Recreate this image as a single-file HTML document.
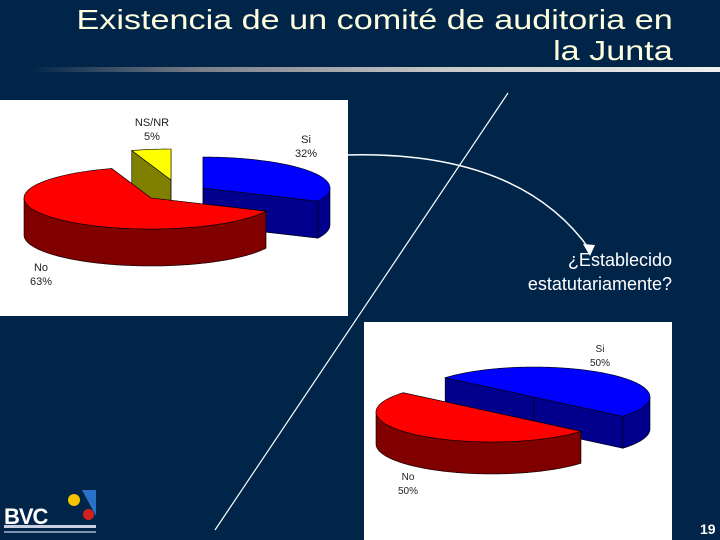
<!DOCTYPE html>
<html><head><meta charset="utf-8"><style>
html,body{margin:0;padding:0;}
body{width:720px;height:540px;background:#012549;position:relative;overflow:hidden;font-family:"Liberation Sans",sans-serif;}
.t{position:absolute;color:#fff;}
</style></head><body>
<div class="t" style="right:47px;top:4px;font-size:28px;line-height:31px;text-align:right;color:#ffffe0;transform:scaleX(1.22);transform-origin:right top;">Existencia de un comité de auditoria en<br>la Junta</div>
<div style="position:absolute;left:30px;top:67px;width:690px;height:5px;background:linear-gradient(to right,#012549,#7a7f88 25%,#c8c8c8 60%,#f0f0f0);"></div>
<div style="position:absolute;left:0;top:100px;width:348px;height:216px;background:#fff;"></div>
<div style="position:absolute;left:364px;top:322px;width:308px;height:218px;background:#fff;"></div>
<svg width="720" height="540" style="position:absolute;left:0;top:0">
<g id="pie1"></g>
<g id="pie2"></g>
<line x1="508" y1="93" x2="215" y2="530" stroke="#fff" stroke-width="1.2"/>
<path d="M345,155 Q520,150 590,250" fill="none" stroke="#fff" stroke-width="1.5"/>
<polygon points="590,256 583,244 595,245" fill="#fff"/>
</svg>
<div class="t" style="left:122px;top:116px;width:60px;text-align:center;font-size:11px;line-height:14px;color:#222;">NS/NR<br>5%</div>
<div class="t" style="left:276px;top:133px;width:60px;text-align:center;font-size:11px;line-height:14px;color:#222;">Si<br>32%</div>
<div class="t" style="left:11px;top:261px;width:60px;text-align:center;font-size:11px;line-height:14px;color:#222;">No<br>63%</div>
<div class="t" style="left:570px;top:343px;width:60px;text-align:center;font-size:10px;line-height:14px;color:#222;">Si<br>50%</div>
<div class="t" style="left:378px;top:471px;width:60px;text-align:center;font-size:10px;line-height:14px;color:#222;">No<br>50%</div>
<div class="t" style="right:48px;top:248px;font-size:18px;line-height:24px;text-align:right;">¿Establecido<br>estatutariamente?</div>
<div class="t" style="left:700px;top:521px;font-size:14px;font-weight:bold;">19</div>
<div style="position:absolute;left:4px;top:490px;width:95px;height:48px;">
 <div style="position:absolute;left:0;top:14px;font:bold 22px 'Liberation Sans',sans-serif;color:#fff;letter-spacing:-1px;">BVC</div>
 <div style="position:absolute;left:64px;top:4px;width:12px;height:12px;border-radius:50%;background:#f2c500;"></div>
 <div style="position:absolute;left:78px;top:0;width:0;height:0;border-left:14px solid transparent;border-top:26px solid #2a72c8;"></div>
 <div style="position:absolute;left:79px;top:19px;width:11px;height:11px;border-radius:50%;background:#d42020;"></div>
 <div style="position:absolute;left:0;top:35px;width:92px;height:3px;background:#c8d0e0;"></div>
 <div style="position:absolute;left:0;top:41px;width:92px;height:2px;background:#8090b0;"></div>
</div>
<script>
const pie1Labels=["Si","No","NS/NR"];
const pie1Values=[32,63,5];
const pie2Labels=["Si","No"];
const pie2Values=[50,50];
const NS="http://www.w3.org/2000/svg";
function drawPie(g,values,names,o){
  const total=values.reduce((a,b)=>a+b,0);
  let a=o.start;const slices=[];
  values.forEach((v,i)=>{const s=a,e=a+v/total*360;a=e;slices.push({s,e,i});});
  function pt(cx,cy,ang,dz){const r=ang*Math.PI/180;return [cx+o.rx*Math.sin(r),cy-o.ry*Math.cos(r)+dz];}
  slices.sort((p,q)=>Math.cos(((p.s+p.e)/2)*Math.PI/180)-Math.cos(((q.s+q.e)/2)*Math.PI/180)).reverse();
  slices.forEach(sl=>{
    const off=o.off[sl.i],cx=o.cx+off[0],cy=o.cy+off[1],col=o.cols[sl.i],d=o.depth;
    const grp=document.createElementNS(NS,"g");
    
    
    [sl.s,sl.e].forEach(an=>{const p=pt(cx,cy,an,0);
      const w=document.createElementNS(NS,"polygon");
      w.setAttribute("points",`${cx},${cy} ${p[0]},${p[1]} ${p[0]},${p[1]+d} ${cx},${cy+d}`);
      w.setAttribute("fill",col[1]);w.setAttribute("stroke","#000");w.setAttribute("stroke-width","0.6");grp.appendChild(w);});
    const top=[],bot=[];
    for(let an=sl.s;an<=sl.e+0.001;an+=1){const nn=((an%360)+360)%360;if(nn>=90&&nn<=270){const p=pt(cx,cy,an,0);top.push(p);bot.push([p[0],p[1]+d]);}}
    if(top.length>1){const w=document.createElementNS(NS,"polygon");
      w.setAttribute("points",top.concat(bot.reverse()).map(p=>p.join(",")).join(" "));
      w.setAttribute("fill",col[1]);w.setAttribute("stroke","#000");w.setAttribute("stroke-width","0.6");grp.appendChild(w);}
    const pts=[[cx,cy]];for(let an=sl.s;an<=sl.e+0.001;an+=1)pts.push(pt(cx,cy,an,0));pts.push(pt(cx,cy,sl.e,0));
    const f=document.createElementNS(NS,"polygon");
    f.setAttribute("points",pts.map(p=>p.join(",")).join(" "));
    f.setAttribute("fill",col[0]);f.setAttribute("stroke","#000");f.setAttribute("stroke-width","0.6");grp.appendChild(f);
    g.appendChild(grp);
  });
}
drawPie(document.getElementById("pie1"),pie1Values,pie1Labels,{cx:151,cy:198,rx:127,ry:31,depth:37,start:0,
  off:[[52,-10],[0,0],[20,-18]],cols:[["#0000ff","#00008c"],["#ff0000","#800000"],["#ffff00","#808000"]]});
drawPie(document.getElementById("pie2"),pie2Values,pie2Labels,{cx:513,cy:405,rx:116,ry:30,depth:32,start:-50,
  off:[[21,-8],[-21,7]],cols:[["#0000ff","#00008c"],["#ff0000","#800000"]]});
</script>
</body></html>
